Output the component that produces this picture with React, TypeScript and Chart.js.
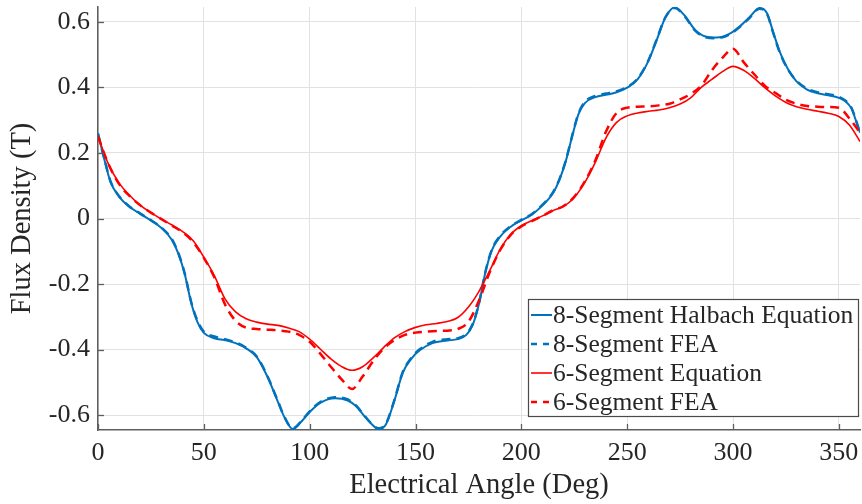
import React, { useEffect, useRef } from 'react';
import { Chart, registerables } from 'chart.js';

Chart.register(...registerables);

// Electrical angle samples (deg) for the 8-segment Halbach curves
const halbach8Angles = [
  0, 3, 6, 10, 15, 20, 25, 30, 35, 38, 41, 44, 47, 50, 55, 60, 65, 70, 75, 80,
  85, 88, 92, 96, 100, 105, 112, 118, 122, 126, 129, 132.5, 136, 140, 144, 148,
  152, 158, 165, 170, 174, 177, 180, 183, 186, 190, 195, 200, 205, 210, 215, 218,
  221, 224, 227, 230, 235, 240, 245, 250, 255, 260, 264, 268, 272.5, 277, 282,
  287, 292.5, 298, 303, 308, 312.5, 316, 319, 322, 326, 330, 335, 340, 345, 350,
  353, 356, 358, 360,
];

// Flux density (T), 8-segment Halbach analytical equation
const halbach8Equation = [
  0.26, 0.18, 0.11, 0.066, 0.035, 0.014, -0.006, -0.029, -0.066, -0.108, -0.17,
  -0.256, -0.316, -0.349, -0.365, -0.371, -0.38, -0.396, -0.423, -0.482, -0.559,
  -0.605, -0.642, -0.62, -0.59, -0.562, -0.548, -0.555, -0.573, -0.604, -0.625,
  -0.642, -0.628, -0.556, -0.47, -0.428, -0.402, -0.38, -0.372, -0.368, -0.355,
  -0.325, -0.26, -0.165, -0.098, -0.055, -0.025, -0.006, 0.012, 0.04, 0.078,
  0.118, 0.175, 0.25, 0.318, 0.352, 0.37, 0.377, 0.385, 0.399, 0.425, 0.48,
  0.545, 0.612, 0.644, 0.62, 0.576, 0.555, 0.552, 0.562, 0.585, 0.615, 0.642,
  0.627, 0.568, 0.51, 0.455, 0.418, 0.393, 0.382, 0.376, 0.368, 0.358, 0.335,
  0.3, 0.262,
];

// Flux density (T), 8-segment finite element result
const halbach8Fea = [
  0.258, 0.182, 0.112, 0.068, 0.036, 0.015, -0.005, -0.028, -0.064, -0.106,
  -0.168, -0.254, -0.312, -0.345, -0.36, -0.368, -0.378, -0.394, -0.421, -0.48,
  -0.557, -0.604, -0.64, -0.618, -0.588, -0.56, -0.545, -0.552, -0.571, -0.602,
  -0.624, -0.64, -0.626, -0.554, -0.468, -0.425, -0.399, -0.376, -0.368,
  -0.365, -0.352, -0.322, -0.258, -0.163, -0.096, -0.053, -0.023, -0.004, 0.014,
  0.042, 0.08, 0.12, 0.177, 0.252, 0.32, 0.356, 0.374, 0.381, 0.388, 0.401,
  0.427, 0.482, 0.547, 0.613, 0.642, 0.618, 0.574, 0.553, 0.55, 0.56, 0.583,
  0.613, 0.64, 0.625, 0.566, 0.508, 0.454, 0.42, 0.396, 0.385, 0.379, 0.371,
  0.36, 0.337, 0.302, 0.26,
];

// Electrical angle samples (deg) for the 6-segment curves
const segment6Angles = [
  0, 5, 10, 15, 20, 25, 30, 35, 40, 45, 50, 55, 60, 65, 70, 75, 80, 85, 90, 95,
  100, 105, 110, 115, 120, 125, 130, 135, 140, 145, 150, 155, 160, 165, 170, 175,
  180, 185, 190, 195, 200, 205, 210, 215, 220, 225, 230, 235, 240, 245, 250, 255,
  260, 265, 270, 275, 280, 285, 290, 295, 300, 305, 310, 315, 320, 325, 330, 335,
  340, 345, 350, 355, 360,
];

// Flux density (T), 6-segment analytical equation
const segment6Equation = [
  0.25, 0.165, 0.108, 0.07, 0.04, 0.018, -0.002, -0.02, -0.04, -0.068, -0.118,
  -0.175, -0.245, -0.285, -0.306, -0.316, -0.322, -0.326, -0.334, -0.345,
  -0.368, -0.398, -0.428, -0.451, -0.463, -0.452, -0.425, -0.393, -0.364,
  -0.345, -0.332, -0.324, -0.32, -0.314, -0.302, -0.27, -0.222, -0.16, -0.094,
  -0.048, -0.022, -0.006, 0.008, 0.024, 0.037, 0.064, 0.11, 0.172, 0.246,
  0.293, 0.313, 0.322, 0.327, 0.331, 0.338, 0.349, 0.368, 0.4, 0.424, 0.448,
  0.464, 0.452, 0.428, 0.399, 0.374, 0.354, 0.341, 0.333, 0.327, 0.321, 0.311,
  0.285, 0.235,
];

// Flux density (T), 6-segment finite element result
const segment6Fea = [
  0.25, 0.165, 0.105, 0.068, 0.04, 0.018, -0.002, -0.022, -0.042, -0.072,
  -0.12, -0.18, -0.262, -0.312, -0.333, -0.337, -0.339, -0.341, -0.345, -0.355,
  -0.376, -0.412, -0.452, -0.49, -0.52, -0.482, -0.435, -0.396, -0.371, -0.355,
  -0.348, -0.345, -0.343, -0.342, -0.337, -0.315, -0.25, -0.165, -0.096, -0.05,
  -0.024, -0.008, 0.008, 0.025, 0.038, 0.066, 0.113, 0.178, 0.265, 0.322,
  0.338, 0.341, 0.342, 0.345, 0.35, 0.363, 0.38, 0.405, 0.452, 0.49, 0.518,
  0.477, 0.44, 0.405, 0.383, 0.362, 0.35, 0.343, 0.341, 0.34, 0.338, 0.305,
  0.262,
];

const xTickValues = [0, 50, 100, 150, 200, 250, 300, 350];
const yTickValues = [-0.6, -0.4, -0.2, 0, 0.2, 0.4, 0.6];

const seriesNames = [
  '8-Segment Halbach Equation',
  '8-Segment FEA',
  '6-Segment Equation',
  '6-Segment FEA',
];

const BLUE = '#0072BD';
const RED = '#FF0000';
const TEXT = '#262626';
const AXIS = '#5e5e5e';
const GRID = '#e2e2e2';
const FONT = "'Liberation Serif', 'Times New Roman', serif";

const toPoints = (xs: number[], ys: number[]) => xs.map((x, i) => ({ x, y: ys[i] }));

// Inward tick marks and the boxed legend in the lower-right corner
const axisDecor = {
  id: 'axisDecor',
  afterDraw(chart: any) {
    const { ctx, chartArea: ca, scales } = chart;
    ctx.save();
    ctx.strokeStyle = AXIS;
    ctx.lineWidth = 1.3;
    const tickLen = 6;
    xTickValues.forEach((v) => {
      const px = Math.round(scales.x.getPixelForValue(v)) + 0.5;
      ctx.beginPath();
      ctx.moveTo(px, ca.bottom);
      ctx.lineTo(px, ca.bottom - tickLen);
      ctx.stroke();
    });
    yTickValues.forEach((v) => {
      const py = Math.round(scales.y.getPixelForValue(v)) + 0.5;
      ctx.beginPath();
      ctx.moveTo(ca.left, py);
      ctx.lineTo(ca.left + tickLen, py);
      ctx.stroke();
    });

    // Legend
    const w = 330;
    const h = 117;
    const x0 = ca.right - 2 - w;
    const y0 = ca.bottom - 14 - h;
    ctx.fillStyle = '#ffffff';
    ctx.fillRect(x0, y0, w, h);
    ctx.strokeStyle = '#4a4a4a';
    ctx.lineWidth = 1.2;
    ctx.setLineDash([]);
    ctx.strokeRect(x0 + 0.5, y0 + 0.5, w, h);

    const styles = [
      { color: BLUE, dash: [] as number[], width: 2 },
      { color: BLUE, dash: [6, 6], width: 2.5 },
      { color: RED, dash: [] as number[], width: 1.6 },
      { color: RED, dash: [6, 6], width: 2.5 },
    ];
    ctx.font = `25.5px ${FONT}`;
    ctx.textBaseline = 'middle';
    ctx.textAlign = 'left';
    seriesNames.forEach((name, i) => {
      const cy = y0 + 16 + i * 29;
      const s = styles[i];
      ctx.strokeStyle = s.color;
      ctx.lineWidth = s.width;
      ctx.setLineDash(s.dash);
      ctx.beginPath();
      ctx.moveTo(x0 + 3, cy);
      ctx.lineTo(x0 + 24, cy);
      ctx.stroke();
      ctx.setLineDash([]);
      ctx.fillStyle = TEXT;
      ctx.fillText(name, x0 + 25, cy + 1);
    });
    ctx.restore();
  },
};

export default function App() {
  const canvasRef = useRef<HTMLCanvasElement | null>(null);

  useEffect(() => {
    const canvas = canvasRef.current;
    if (!canvas) return;
    const chart = new Chart(canvas, {
      type: 'line',
      data: {
        datasets: [
          {
            label: seriesNames[0],
            data: toPoints(halbach8Angles, halbach8Equation),
            borderColor: BLUE,
            borderWidth: 2,
            pointRadius: 0,
            cubicInterpolationMode: 'monotone',
            order: 4,
          },
          {
            label: seriesNames[1],
            data: toPoints(halbach8Angles, halbach8Fea),
            borderColor: BLUE,
            borderWidth: 2.5,
            borderDash: [9, 6],
            pointRadius: 0,
            cubicInterpolationMode: 'monotone',
            order: 3,
          },
          {
            label: seriesNames[2],
            data: toPoints(segment6Angles, segment6Equation),
            borderColor: RED,
            borderWidth: 1.6,
            pointRadius: 0,
            cubicInterpolationMode: 'monotone',
            order: 2,
          },
          {
            label: seriesNames[3],
            data: toPoints(segment6Angles, segment6Fea),
            borderColor: RED,
            borderWidth: 2.5,
            borderDash: [9, 6],
            pointRadius: 0,
            cubicInterpolationMode: 'monotone',
            order: 1,
          },
        ],
      },
      options: {
        responsive: false,
        devicePixelRatio: 1,
        animation: false,
        layout: { padding: { top: 7, right: 2, left: 0, bottom: 0 } },
        plugins: {
          legend: { display: false },
          tooltip: { enabled: false },
        },
        scales: {
          x: {
            type: 'linear',
            min: 0,
            max: 360,
            afterBuildTicks: (s: any) => {
              s.ticks = xTickValues.map((value) => ({ value }));
            },
            afterFit: (s: any) => {
              s.height = 74;
              s.paddingLeft = 0;
              s.paddingRight = 0;
            },
            grid: { color: GRID, lineWidth: 1, drawTicks: false },
            border: { display: true, color: AXIS, width: 1.5 },
            ticks: {
              color: TEXT,
              font: { family: FONT, size: 26 },
              padding: 8,
              maxRotation: 0,
              autoSkip: false,
            },
            title: {
              display: true,
              text: 'Electrical Angle (Deg)',
              color: TEXT,
              font: { family: FONT, size: 28.5 },
              padding: { top: 0, bottom: 1 },
            },
          },
          y: {
            type: 'linear',
            min: -0.645,
            max: 0.645,
            afterBuildTicks: (s: any) => {
              s.ticks = yTickValues.map((value) => ({ value }));
            },
            afterFit: (s: any) => {
              s.width = 98;
              s.paddingTop = 0;
              s.paddingBottom = 0;
            },
            grid: { color: GRID, lineWidth: 1, drawTicks: false },
            border: { display: true, color: AXIS, width: 1.5 },
            ticks: {
              color: TEXT,
              font: { family: FONT, size: 26 },
              padding: 8,
              callback: (v: any) => (Number(v) === 0 ? '0' : Number(v).toFixed(1)),
            },
            title: {
              display: true,
              text: 'Flux Density (T)',
              color: TEXT,
              font: { family: FONT, size: 28.5 },
              padding: { top: 5, bottom: 0 },
            },
          },
        },
      },
      plugins: [axisDecor],
    });
    return () => chart.destroy();
  }, []);

  return (
    <div style={{ position: 'fixed', left: 0, top: 0, width: 862, height: 504, background: '#fff' }}>
      <canvas ref={canvasRef} width={862} height={504} style={{ display: 'block' }} />
    </div>
  );
}
